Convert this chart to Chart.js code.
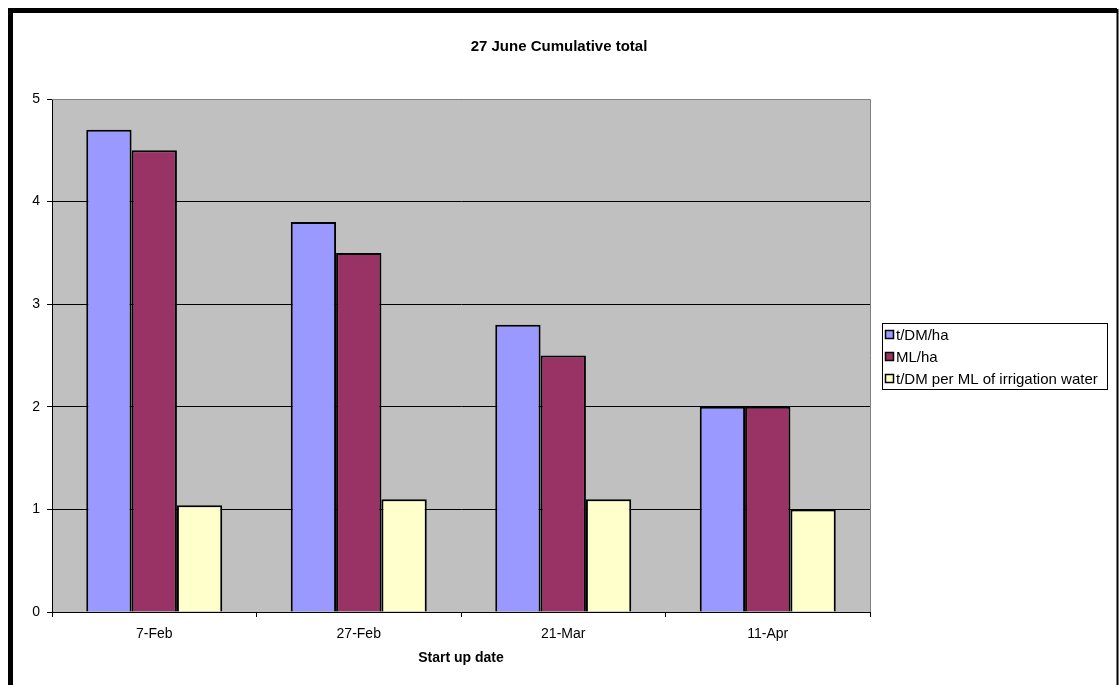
<!DOCTYPE html>
<html>
<head>
<meta charset="utf-8">
<script src="https://cdn.jsdelivr.net/npm/chart.js@4"></script>
<style>
  html, body { margin: 0; padding: 0; background: #fff; }
  #wrap { width: 1119px; height: 685px; position: relative; }
</style>
</head>
<body>
<div id="wrap"><canvas id="myChart" width="1119" height="685"></canvas></div>
<script>
const categories = ['7-Feb', '27-Feb', '21-Mar', '11-Apr'];
const dmPerHa = [4.7, 3.8, 2.8, 2.0];
const mlPerHa = [4.5, 3.5, 2.5, 2.0];
const dmPerMl = [1.04, 1.1, 1.1, 1.0];
const seriesNames = ['t/DM/ha', 'ML/ha', 't/DM per ML of irrigation water'];
const chartTitle = '27 June Cumulative total';
const yTicks = [0, 1, 2, 3, 4, 5];

const FONT = 'Arial, "Liberation Sans", sans-serif';

// gray plot area, title, outer frame and an Excel style legend box
const excelLook = {
    id: 'excelLook',
    beforeDraw(chart) {
        const { ctx, chartArea: a } = chart;
        ctx.save();
        ctx.fillStyle = '#c0c0c0';
        ctx.fillRect(a.left, a.top, a.right - a.left, a.bottom - a.top);
        ctx.restore();
    },
    afterDatasetsDraw(chart) {
        const { ctx, chartArea: a } = chart;
        ctx.save();
        // plot border (top/right)
        ctx.strokeStyle = '#808080';
        ctx.lineWidth = 1;
        ctx.beginPath();
        ctx.moveTo(a.left, a.top + 0.5);
        ctx.lineTo(a.right + 0.5, a.top + 0.5);
        ctx.lineTo(a.right + 0.5, a.bottom);
        ctx.stroke();

        // title, centred on the whole chart
        ctx.fillStyle = '#000';
        ctx.font = 'bold 15px ' + FONT;
        ctx.textAlign = 'center';
        ctx.textBaseline = 'middle';
        ctx.fillText(chartTitle, 559, 47);

        // outer frame
        ctx.strokeStyle = '#000';
        ctx.lineWidth = 5;
        ctx.beginPath();
        ctx.moveTo(10.5, 685);
        ctx.lineTo(10.5, 10.5);
        ctx.lineTo(1117, 10.5);
        ctx.stroke();
        ctx.lineWidth = 2;
        ctx.beginPath();
        ctx.moveTo(1117.5, 9);
        ctx.lineTo(1117.5, 685);
        ctx.stroke();

        // legend
        const x0 = 882, y0 = 323, w = 225, h = 66;
        ctx.fillStyle = '#fff';
        ctx.fillRect(x0, y0, w, h);
        ctx.strokeStyle = '#000';
        ctx.lineWidth = 1;
        ctx.strokeRect(x0 + 0.5, y0 + 0.5, w, h);
        ctx.font = '15px ' + FONT;
        ctx.textAlign = 'left';
        ctx.textBaseline = 'middle';
        chart.data.datasets.forEach((ds, i) => {
            const cy = y0 + 12 + i * 22;
            ctx.fillStyle = ds.backgroundColor;
            ctx.fillRect(x0 + 3.5, cy - 4.5, 8, 8);
            ctx.strokeStyle = '#000';
            ctx.lineWidth = 1.5;
            ctx.strokeRect(x0 + 3.5, cy - 4.5, 8, 8);
            ctx.fillStyle = '#000';
            ctx.fillText(ds.label, x0 + 14, cy + 0.5);
        });
        ctx.restore();
    }
};

const ctx = document.getElementById('myChart').getContext('2d');
new Chart(ctx, {
    type: 'bar',
    data: {
        labels: categories,
        datasets: [
            { label: seriesNames[0], data: dmPerHa, backgroundColor: '#9999ff' },
            { label: seriesNames[1], data: mlPerHa, backgroundColor: '#993366' },
            { label: seriesNames[2], data: dmPerMl, backgroundColor: '#ffffcc' },
        ].map(d => ({ ...d, borderColor: '#000', borderWidth: 2, borderSkipped: 'bottom',
            categoryPercentage: 0.665, barPercentage: 1 })),
    },
    options: {
        responsive: false,
        animation: false,
        layout: { padding: { left: 0, top: 99, right: 249, bottom: 0 } },
        plugins: {
            legend: { display: false },
            tooltip: { enabled: false },
            title: { display: false },
        },
        scales: {
            x: {
                grid: { display: true, drawOnChartArea: false, offset: true, tickLength: 5, color: '#000' },
                border: { color: '#000', width: 1 },
                ticks: { color: '#000', font: { family: FONT, size: 14 }, padding: 9 },
                title: {
                    display: true,
                    text: 'Start up date',
                    color: '#000',
                    font: { family: FONT, size: 14, weight: 'bold' },
                    padding: { top: 0, bottom: 18 },
                },
                afterFit(scale) { scale.height = 73; },
            },
            y: {
                min: yTicks[0],
                max: yTicks[yTicks.length - 1],
                afterBuildTicks(scale) { scale.ticks = yTicks.map(v => ({ value: v })); },
                grid: { color: '#000', tickLength: 5, tickColor: '#000' },
                border: { color: '#000', width: 1 },
                ticks: { color: '#000', font: { family: FONT, size: 14 }, padding: 7 },
                afterFit(scale) { scale.width = 52; },
            },
        },
    },
    plugins: [excelLook],
});
</script>
</body>
</html>
